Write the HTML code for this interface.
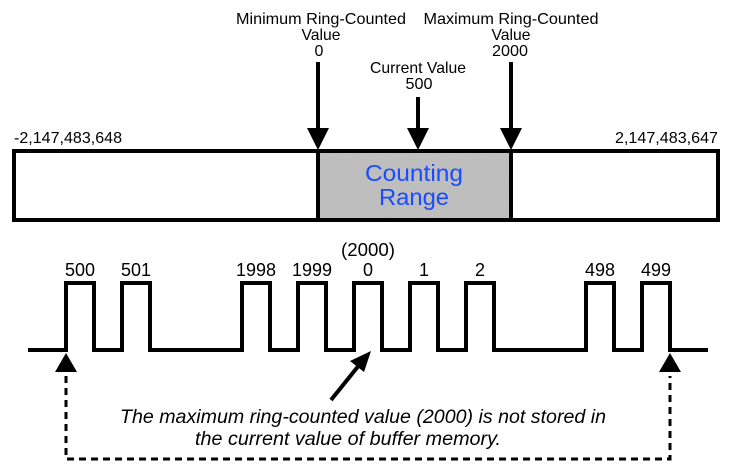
<!DOCTYPE html>
<html><head><meta charset="utf-8"><style>
html,body{margin:0;padding:0;background:#fff;}
svg{display:block}
text{font-family:"Liberation Sans",sans-serif;fill:#000}
</style></head><body>
<svg width="732" height="472" viewBox="0 0 732 472" xmlns="http://www.w3.org/2000/svg">
<defs>
<filter id="n" x="0" y="0" width="100%" height="100%">
<feTurbulence type="fractalNoise" baseFrequency="0.9" numOctaves="2" seed="3"/>
<feColorMatrix type="matrix" values="0 0 0 0 0.6  0 0 0 0 0.6  0 0 0 0 0.6  0 0 0 0.6 0"/>
</filter>
</defs>
<!-- top labels -->
<g font-size="16" text-anchor="middle">
<text x="321" y="24" textLength="170" lengthAdjust="spacingAndGlyphs">Minimum Ring-Counted</text>
<text x="321" y="40" textLength="39" lengthAdjust="spacingAndGlyphs">Value</text>
<text x="319" y="56">0</text>
<text x="511" y="24" textLength="175" lengthAdjust="spacingAndGlyphs">Maximum Ring-Counted</text>
<text x="511" y="40" textLength="39" lengthAdjust="spacingAndGlyphs">Value</text>
<text x="510" y="56" textLength="36" lengthAdjust="spacingAndGlyphs">2000</text>
<text x="418" y="73" textLength="96" lengthAdjust="spacingAndGlyphs">Current Value</text>
<text x="419" y="89" textLength="27" lengthAdjust="spacingAndGlyphs">500</text>
<text x="14" y="143" text-anchor="start" textLength="108" lengthAdjust="spacingAndGlyphs">-2,147,483,648</text>
<text x="718" y="143" text-anchor="end" textLength="103" lengthAdjust="spacingAndGlyphs">2,147,483,647</text>
</g>
<!-- arrows -->
<g fill="#000">
<rect x="316" y="62" width="4" height="68"/><polygon points="307,128 329,128 318,150"/>
<rect x="416" y="97" width="4" height="33"/><polygon points="407,128 429,128 418,150"/>
<rect x="509" y="62" width="4" height="68"/><polygon points="500,128 522,128 511,150"/>
</g>
<!-- box -->
<rect x="318" y="151" width="193" height="69" fill="#b8b8b8"/>
<rect x="318" y="151" width="193" height="69" filter="url(#n)"/>
<rect x="14" y="151" width="704" height="69" fill="none" stroke="#000" stroke-width="4"/>
<line x1="318" y1="151" x2="318" y2="220" stroke="#000" stroke-width="4"/>
<line x1="511" y1="151" x2="511" y2="220" stroke="#000" stroke-width="4"/>
<g font-size="23" text-anchor="middle">
<text x="414" y="181" style="fill:#1a4bff" textLength="98" lengthAdjust="spacingAndGlyphs">Counting</text>
<text x="414" y="205" style="fill:#1a4bff" textLength="70" lengthAdjust="spacingAndGlyphs">Range</text>
</g>
<!-- waveform -->
<polyline fill="none" stroke="#000" stroke-width="4" stroke-linejoin="miter" points="28,350 66,350 66,283 94,283 94,350 122,350 122,283 150,283 150,350 242,350 242,283 270,283 270,350 298,350 298,283 326,283 326,350 354,350 354,283 382,283 382,350 410,350 410,283 438,283 438,350 466,350 466,283 494,283 494,350 586,350 586,283 614,283 614,350 642,350 642,283 670,283 670,350 708,350"/>
<g font-size="18" text-anchor="middle">
<text x="80" y="276" textLength="30" lengthAdjust="spacingAndGlyphs">500</text>
<text x="136" y="276" textLength="30" lengthAdjust="spacingAndGlyphs">501</text>
<text x="256" y="276" textLength="40" lengthAdjust="spacingAndGlyphs">1998</text>
<text x="312" y="276" textLength="40" lengthAdjust="spacingAndGlyphs">1999</text>
<text x="368" y="276">0</text>
<text x="368" y="256" textLength="54" lengthAdjust="spacingAndGlyphs">(2000)</text>
<text x="424" y="276">1</text>
<text x="480" y="276">2</text>
<text x="600" y="276" textLength="30" lengthAdjust="spacingAndGlyphs">498</text>
<text x="656" y="276" textLength="30" lengthAdjust="spacingAndGlyphs">499</text>
</g>
<!-- up arrows & dashed -->
<polygon points="66,353 55,372 77,372" fill="#000"/>
<polygon points="670,353 659,372 681,372" fill="#000"/>
<polyline fill="none" stroke="#000" stroke-width="3" stroke-dasharray="7,5" points="66,376 66,459 670,459 670,376"/>
<!-- diagonal arrow -->
<line x1="331" y1="400" x2="360" y2="364" stroke="#000" stroke-width="4"/>
<polygon points="371,351 350,361 364,372" fill="#000"/>
<g font-size="19" font-style="italic" text-anchor="middle">
<text x="363" y="423" textLength="486" lengthAdjust="spacingAndGlyphs">The maximum ring-counted value (2000) is not stored in</text>
<text x="348" y="445" textLength="306" lengthAdjust="spacingAndGlyphs">the current value of buffer memory.</text>
</g>
</svg>
</body></html>
